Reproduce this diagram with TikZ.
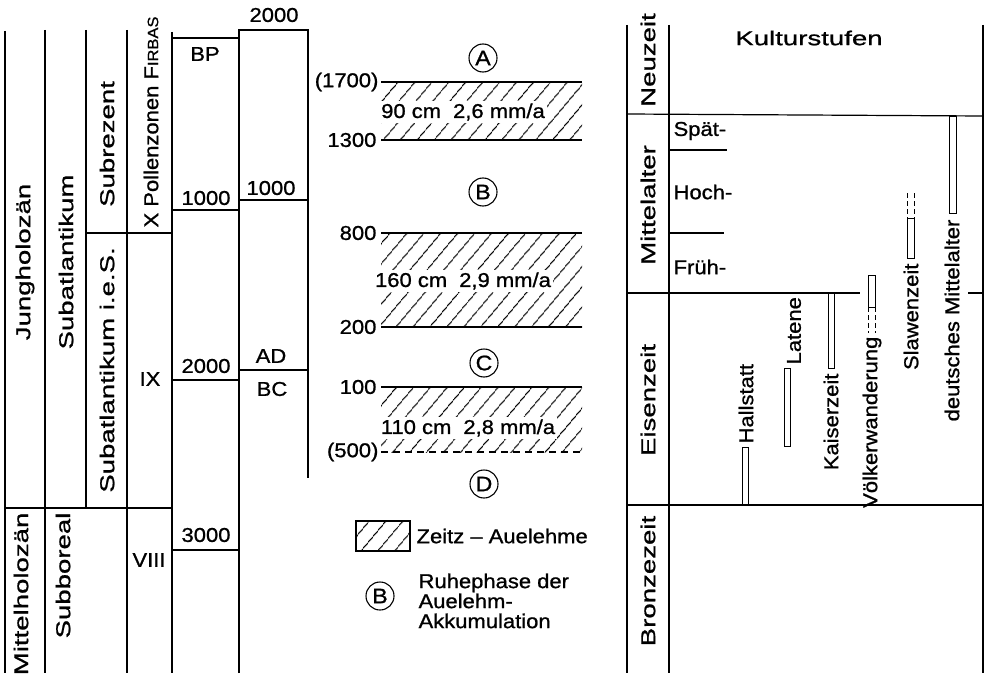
\documentclass[tikz,border=0pt]{standalone}
\usepackage{fontspec}
\setmainfont[FakeStretch=1.1,FakeBold=1]{Liberation Sans}
\newfontfamily\widefont[FakeStretch=1.38,FakeBold=1]{Liberation Sans}
\usetikzlibrary{patterns.meta}

\begin{document}
\begin{tikzpicture}[x=1pt,y=-1pt,line width=1.2pt,
		every node/.style={font=\fontsize{20}{20}\selectfont,inner sep=1pt},
		wide/.style={font=\widefont\fontsize{20}{20}\selectfont},
		vert/.style={rotate=90},
		band/.style={pattern={Lines[angle=50,distance=13pt,line width=1.1pt]}},
		cbar/.style={line width=1pt},
		gap/.style={cbar,dash pattern=on 5pt off 3pt},
		ringtxt/.style={font=\fontsize{21}{21}\selectfont},
		ring/.style={line width=1.1pt}]
			\useasboundingbox (0,0) rectangle (988,677);
			\draw (5,31)--(5,673);
			\draw (45,30)--(45,673);
			\draw (86,30)--(86,508);
			\draw (127,30)--(127,673);
			\draw (172,32)--(172,673);
			\draw (239,673)--(239,30)--(308,30)--(308,478);
			\draw (172,38)--(239,38);
			\draw (86,233)--(172,233);
			\draw (172,210)--(239,210);
			\draw (239,200)--(308,200);
			\draw (172,380)--(239,380);
			\draw (239,370)--(308,370);
			\draw (5,508)--(172,508);
			\draw (172,550)--(239,550);
			\node[wide,vert] (jung) at (25,262) {Jungholozän};
			\node[wide,vert] (subatl) at (66,262) {Subatlantikum};
			\node[wide,vert] (subrez) at (107,144) {Subrezent};
			\node[vert] (pollen) at (151,122) {X Pollenzonen F{\fontsize{15}{15}\selectfont IRBAS}};
			\node[wide,vert] (subies) at (107,370) {Subatlantikum i.e.S.};
			\node (ix) at (150,379) {IX};
			\node[wide,vert,anchor=east] (mittelh) at (21,511) {Mittelholozän};
			\node[wide,vert,anchor=east] (subb) at (63,511) {Subboreal};
			\node (viii) at (149,560) {VIII};
			\node (bp) at (205,54) {BP};
			\node (bptop) at (274,15) {2000};
			\node (bpa) at (206,198) {1000};
			\node (ada) at (271,188) {1000};
			\node (bpb) at (206,366) {2000};
			\node (ad) at (271,356) {AD};
			\node (bc) at (272,389) {BC};
			\node (bpc) at (206,535) {3000};
			\path[band] (381,82) rectangle (582,140);
			\draw (381,82)--(582,82);
			\draw (381,140)--(582,140);
			\path[band] (381,233) rectangle (582,327);
			\draw (381,233)--(582,233);
			\draw (381,327)--(582,327);
			\path[band] (381,387) rectangle (582,452);
			\draw (381,387)--(582,387);
			\draw[dash pattern=on 7pt off 5pt] (381,452)--(582,452);
			\node[fill=white,inner sep=2pt] (rateA) at (463,112) {90 cm\hspace{0.6em}2,6 mm/a};
			\node[fill=white,inner sep=2pt] (rateB) at (463,281) {160 cm\hspace{0.6em}2,9 mm/a};
			\node[fill=white,inner sep=2pt] (rateC) at (468,428) {110 cm\hspace{0.6em}2,8 mm/a};
			\node[anchor=east] (yA) at (380,82) {(1700)};
			\node[anchor=east] (yB) at (378,140) {1300};
			\node[anchor=east] (yC) at (378,233) {800};
			\node[anchor=east] (yD) at (378,327) {200};
			\node[anchor=east] (yE) at (378,387) {100};
			\node[anchor=east] (yF) at (380,452) {(500)};
			\node[ringtxt] (pA) at (483,58) {A};
			\node[ringtxt] (pB) at (483,192) {B};
			\node[ringtxt] (pC) at (484,363) {C};
			\node[ringtxt] (pD) at (484,484) {D};
			\node[ringtxt] (lgB) at (380,596) {B};
			\foreach \p in {pA,pB,pC,pD,lgB}
				\draw[ring] (\p.center) circle (14pt);
			\path[band] (356,521) rectangle (410,551);
			\draw (356,521) rectangle (410,551);
			\node[anchor=west] (lgband) at (415,536) {Zeitz – Auelehme};
			\node[anchor=north west,align=left] (lgtext) at (417,572) {Ruhephase der\\Auelehm-\\Akkumulation};
			\draw (627,25)--(627,673);
			\draw (669,25)--(669,673);
			\draw (983,25)--(983,673);
			\draw (627,114)--(983,116);
			\draw (627,293)--(860,293);
			\draw (968,293)--(983,293);
			\draw (627,505)--(983,505);
			\draw (669,150)--(727,150);
			\draw (669,233)--(724,233);
			\node[wide,vert] (neu) at (648,60) {Neuzeit};
			\node[wide,vert] (ma) at (648,205) {Mittelalter};
			\node[wide,vert] (eisen) at (648,400) {Eisenzeit};
			\node[wide,vert] (bronze) at (648,581) {Bronzezeit};
			\node[wide] (kultur) at (809,38) {Kulturstufen};
			\node[anchor=west] (spaet) at (672,131) {Spät-};
			\node[anchor=west] (hoch) at (672,192) {Hoch-};
			\node[anchor=west] (frueh) at (672,267) {Früh-};
			\draw[cbar] (949,116) rectangle (956,213);
			\node[vert,anchor=east] (dma) at (952,218) {deutsches Mittelalter};
			\draw[gap] (907,193)--(907,218);
			\draw[gap] (914,193)--(914,218);
			\draw[cbar] (907,218) rectangle (914,258);
			\node[vert,anchor=east] (slaw) at (911,262) {Slawenzeit};
			\draw[cbar] (868,275) rectangle (875,307);
			\draw[gap] (868,307)--(868,333);
			\draw[gap] (875,307)--(875,333);
			\node[vert,anchor=east] (voelk) at (872,335) {Völkerwanderung};
			\draw[cbar] (828,293) rectangle (834,368);
			\node[vert,anchor=east] (kaiser) at (831,372) {Kaiserzeit};
			\draw[cbar] (784,368) rectangle (790,446);
			\node[vert,anchor=west] (latene) at (794,366) {Latene};
			\draw[cbar] (742,447) rectangle (748,505);
			\node[vert,anchor=west] (hall) at (746,445) {Hallstatt};
		\end{tikzpicture}
\end{document}
